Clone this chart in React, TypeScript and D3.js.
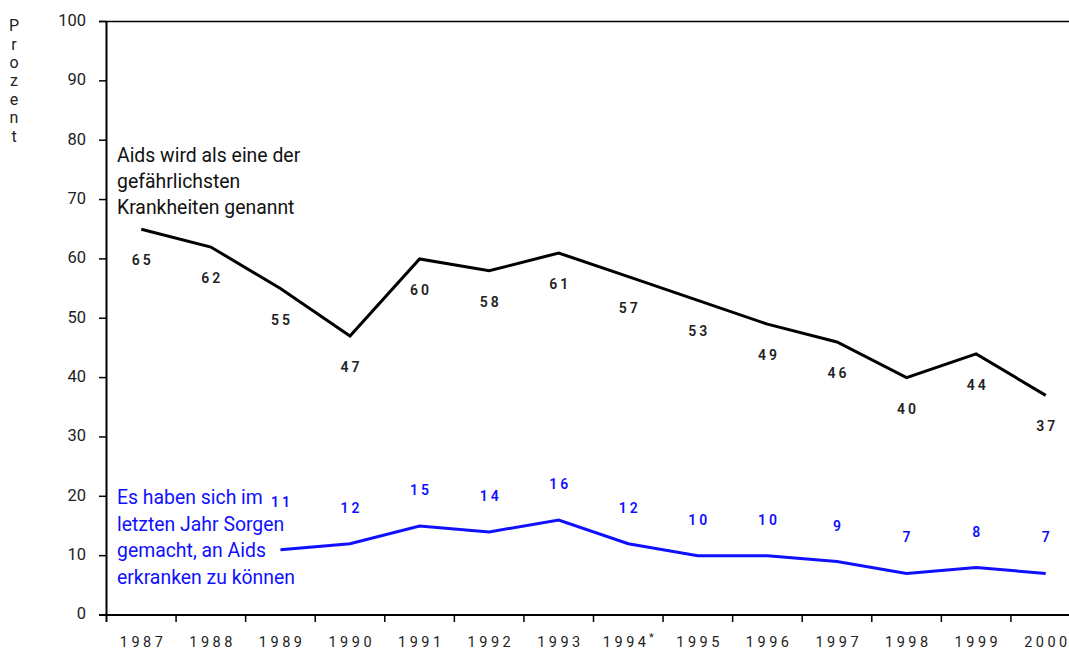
import React from "react";
import * as d3 from "d3";

const years = ["1987","1988","1989","1990","1991","1992","1993","1994","1995","1996","1997","1998","1999","2000"];
const yearMarks = ["","","","","","","","*","","","","","",""];
const dangerous = [65,62,55,47,60,58,61,57,53,49,46,40,44,37];
const worried: (number | null)[] = [null,null,11,12,15,14,16,12,10,10,9,7,8,7];
const worriedLabelShift = [0,0,-12,0,0,0,0,0,0,0,0,0,0,0];
const yTicks = [0,10,20,30,40,50,60,70,80,90,100];
const blackNote = ["Aids wird als eine der","gefährlichsten","Krankheiten genannt"];
const blueNote = ["Es haben sich im","letzten Jahr Sorgen","gemacht, an Aids","erkranken zu können"];
const yTitle = "Prozent";

const W = 1069, H = 653;
const FONT = "Roboto, 'Open Sans', sans-serif";
const BLUE = "#1010ff";

function Spaced({ s, gap }: { s: string; gap: number }) {
  return (
    <>
      {s.split("").map((c, i) => (
        <tspan key={i} dx={i === 0 ? 0 : gap}>{c}</tspan>
      ))}
    </>
  );
}

export default function App() {
  const x = d3.scaleBand<string>().domain(years).range([106.5, 1080.5]).padding(0);
  const y = d3.scaleLinear().domain([0, 100]).range([615, 21.5]);
  const cx = (yr: string) => (x(yr) as number) + x.bandwidth() / 2;

  const lineBlack = d3.line<number>().x((_, i) => cx(years[i])).y(d => y(d))(dangerous) as string;
  const lineBlue = d3.line<number | null>()
    .defined(d => d != null)
    .x((_, i) => cx(years[i]))
    .y(d => y(d as number))(worried) as string;

  const boundaries = years.map(yr => x(yr) as number).slice(1);

  return (
    <div style={{ position: "absolute", left: 0, top: 0 }}>
      <svg width={W} height={H} style={{ display: "block", fontFamily: FONT }}>
        <rect width={W} height={H} fill="#fff" />
        {/* Y axis title, stacked letters */}
        {yTitle.split("").map((c, i) => (
          <text key={i} x={14} y={27 + i * 18.4} fontSize={16} fill="#222" textAnchor="middle" dominantBaseline="middle">{c}</text>
        ))}
        {/* Y ticks */}
        {yTicks.map(t => (
          <g key={t}>
            <line x1={99} x2={106.5} y1={y(t)} y2={y(t)} stroke="#000" strokeWidth={1.5} />
            <text x={86} y={y(t)} fontSize={16.5} fill="#222" textAnchor="end" dominantBaseline="middle">{t}</text>
          </g>
        ))}
        {/* top frame line */}
        <line x1={99} x2={W} y1={y(100)} y2={y(100)} stroke="#000" strokeWidth={1.5} />
        {/* axes */}
        <line x1={106.5} x2={106.5} y1={y(100)} y2={y(0) + 7} stroke="#000" strokeWidth={2} />
        <line x1={99} x2={W} y1={y(0)} y2={y(0)} stroke="#000" strokeWidth={2} />
        {boundaries.map((b, i) => (
          <line key={i} x1={b} x2={b} y1={y(0)} y2={y(0) + 7} stroke="#000" strokeWidth={1.5} />
        ))}
        {years.map((yr, i) => (
          <text key={yr} x={cx(yr)} y={643} fontSize={14.5} fill="#222" textAnchor="middle" dominantBaseline="middle">
            <Spaced s={yr} gap={3.5} />
            {yearMarks[i] ? <tspan fontSize={11} dx={3} dy={-5}>{yearMarks[i]}</tspan> : null}
          </text>
        ))}
        {/* lines */}
        <path d={lineBlack} fill="none" stroke="#000" strokeWidth={3} strokeLinejoin="miter" />
        <path d={lineBlue} fill="none" stroke={BLUE} strokeWidth={3} strokeLinejoin="miter" />
        {/* value labels */}
        {dangerous.map((v, i) => (
          <text key={"b" + i} x={cx(years[i])} y={y(v) + 32} fontSize={14} fontWeight={600} fill="#222" textAnchor="middle" dominantBaseline="middle">
            <Spaced s={String(v)} gap={3} />
          </text>
        ))}
        {worried.map((v, i) => v == null ? null : (
          <text key={"u" + i} x={cx(years[i])} y={y(v) - 35 + worriedLabelShift[i]} fontSize={14} fontWeight={600} fill={BLUE} textAnchor="middle" dominantBaseline="middle">
            <Spaced s={String(v)} gap={3} />
          </text>
        ))}
        {/* annotations */}
        {blackNote.map((s, i) => (
          <text key={"bn" + i} x={117} y={157 + i * 26} fontSize={19.4} fill="#111" dominantBaseline="middle">{s}</text>
        ))}
        {blueNote.map((s, i) => (
          <text key={"un" + i} x={117} y={499 + i * 26.5} fontSize={19.4} fill={BLUE} dominantBaseline="middle">{s}</text>
        ))}
      </svg>
    </div>
  );
}
